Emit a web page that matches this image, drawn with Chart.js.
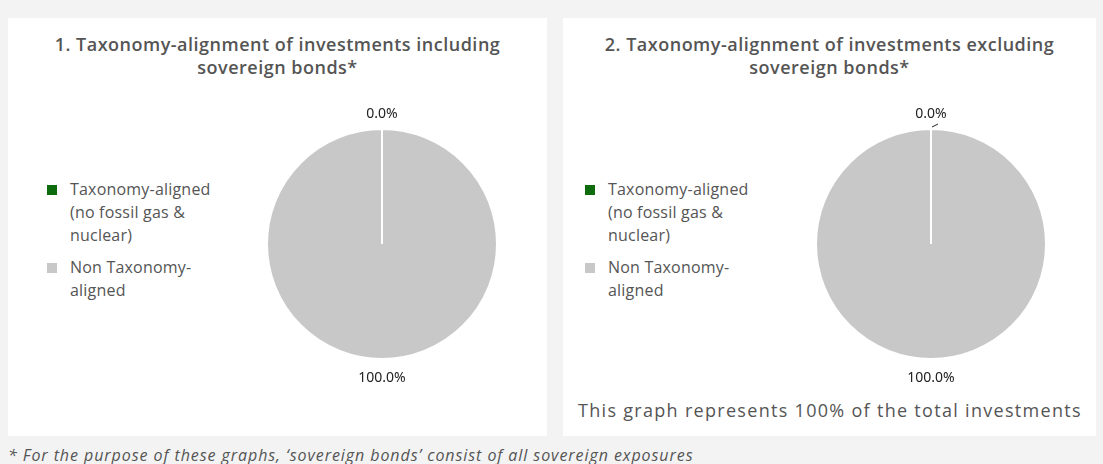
<!DOCTYPE html>
<html>
<head>
<meta charset="utf-8">
<script src="https://cdn.jsdelivr.net/npm/chart.js@4.4.0/dist/chart.umd.min.js"></script>
<style>
    body {
        margin: 0;
        width: 1103px;
        height: 464px;
        background: #f3f3f3;
        font-family: 'Open Sans', sans-serif;
        color: #555;
        position: relative;
        overflow: hidden;
    }
    .painel {
        position: absolute;
        top: 18px;
        height: 418px;
        background: #fff;
    }
    .titulo {
        position: absolute;
        left: 0;
        right: 0;
        top: 15px;
        text-align: center;
        font-weight: 600;
        font-size: 18px;
        letter-spacing: 0.5px;
        line-height: 23px;
        color: #555;
    }
    .legenda {
        position: absolute;
        top: 160px;
        font-size: 16px;
        letter-spacing: 0.2px;
        line-height: 23px;
        color: #555;
    }
    .item {
        position: relative;
        padding-left: 23px;
        margin-bottom: 9px;
    }
    .item span {
        position: absolute;
        left: 0;
        top: 7px;
        width: 10px;
        height: 10px;
    }
    .grafico {
        position: absolute;
        top: 80px;
        width: 280px;
        height: 292px;
    }
    .nota {
        position: absolute;
        left: 15px;
        top: 380px;
        font-size: 18px;
        letter-spacing: 1.3px;
        color: #555;
        white-space: nowrap;
    }
    .rodape {
        position: absolute;
        left: 8px;
        top: 444px;
        font-size: 16px;
        letter-spacing: 0.93px;
        font-style: italic;
        color: #555;
        white-space: nowrap;
    }
</style>
</head>
<body>

<div class="painel" style="left: 8px; width: 539px;">
    <div class="titulo">1. Taxonomy-alignment of investments including<br>sovereign bonds*</div>
    <div class="legenda" id="legenda1" style="left: 39px;"></div>
    <div class="grafico" style="left: 234px;"><canvas id="grafico1"></canvas></div>
</div>

<div class="painel" style="left: 563px; width: 533px;">
    <div class="titulo">2. Taxonomy-alignment of investments excluding<br>sovereign bonds*</div>
    <div class="legenda" id="legenda2" style="left: 22px;"></div>
    <div class="grafico" style="left: 228px;"><canvas id="grafico2"></canvas></div>
    <div class="nota">This graph represents 100% of the total investments</div>
</div>

<div class="rodape">* For the purpose of these graphs, ‘sovereign bonds’ consist of all sovereign exposures</div>

<script>
const categorias = [["Taxonomy-aligned", "(no fossil gas &", "nuclear)"], ["Non Taxonomy-", "aligned"]];
const valoresIncluindo = [0, 100];
const valoresExcluindo = [0, 100];
const cores = ['#0e6b0e', '#c8c8c8'];

function montarLegenda(id) {
    const legenda = document.getElementById(id);
    categorias.forEach(function (linhas, i) {
        const item = document.createElement('div');
        item.className = 'item';
        item.innerHTML = '<span style="background:' + cores[i] + '"></span>' + linhas.join('<br>');
        legenda.appendChild(item);
    });
}

// rotulos de porcentagem fora da pizza
const rotulosFora = {
    id: 'rotulosFora',
    afterDatasetsDraw(chart, args, opts) {
        const ctx = chart.ctx;
        const arcos = chart.getDatasetMeta(0).data;
        const valores = chart.data.datasets[0].data;
        ctx.save();
        ctx.font = '14px "Noto Sans"';
        ctx.fillStyle = '#222';
        ctx.textAlign = 'center';
        ctx.textBaseline = 'middle';
        arcos.forEach(function (arco, i) {
            const p = arco.getProps(['x', 'y', 'startAngle', 'endAngle', 'outerRadius'], true);
            const meio = (p.startAngle + p.endAngle) / 2;
            const r = p.outerRadius + 17;
            ctx.fillText(valores[i].toFixed(1) + '%', p.x + Math.cos(meio) * r, p.y + Math.sin(meio) * r + 2);
            if (opts.linha && valores[i] == 0) {
                ctx.strokeStyle = '#222';
                ctx.lineWidth = 1;
                ctx.beginPath();
                ctx.moveTo(p.x + 1, p.y - p.outerRadius - 2);
                ctx.lineTo(p.x + 7, p.y - p.outerRadius - 5);
                ctx.stroke();
            }
        });
        ctx.restore();
    }
};

function criarGrafico(id, valores, linha) {
    return new Chart(document.getElementById(id), {
        type: 'pie',
        data: {
            labels: categorias.map(function (l) { return l.join(' '); }),
            datasets: [
                {
                    data: valores,
                    backgroundColor: cores,
                    borderColor: '#ffffff',
                    borderWidth: 2
                }
            ]
        },
        options: {
            responsive: true,
            maintainAspectRatio: false,
            animation: false,
            layout: {
                padding: { top: 30, bottom: 30 }
            },
            plugins: {
                legend: { display: false },
                tooltip: { enabled: false },
                rotulosFora: { linha: linha }
            }
        },
        plugins: [rotulosFora]
    });
}

montarLegenda('legenda1');
montarLegenda('legenda2');
criarGrafico('grafico1', valoresIncluindo, false);
criarGrafico('grafico2', valoresExcluindo, true);
</script>
</body>
</html>
